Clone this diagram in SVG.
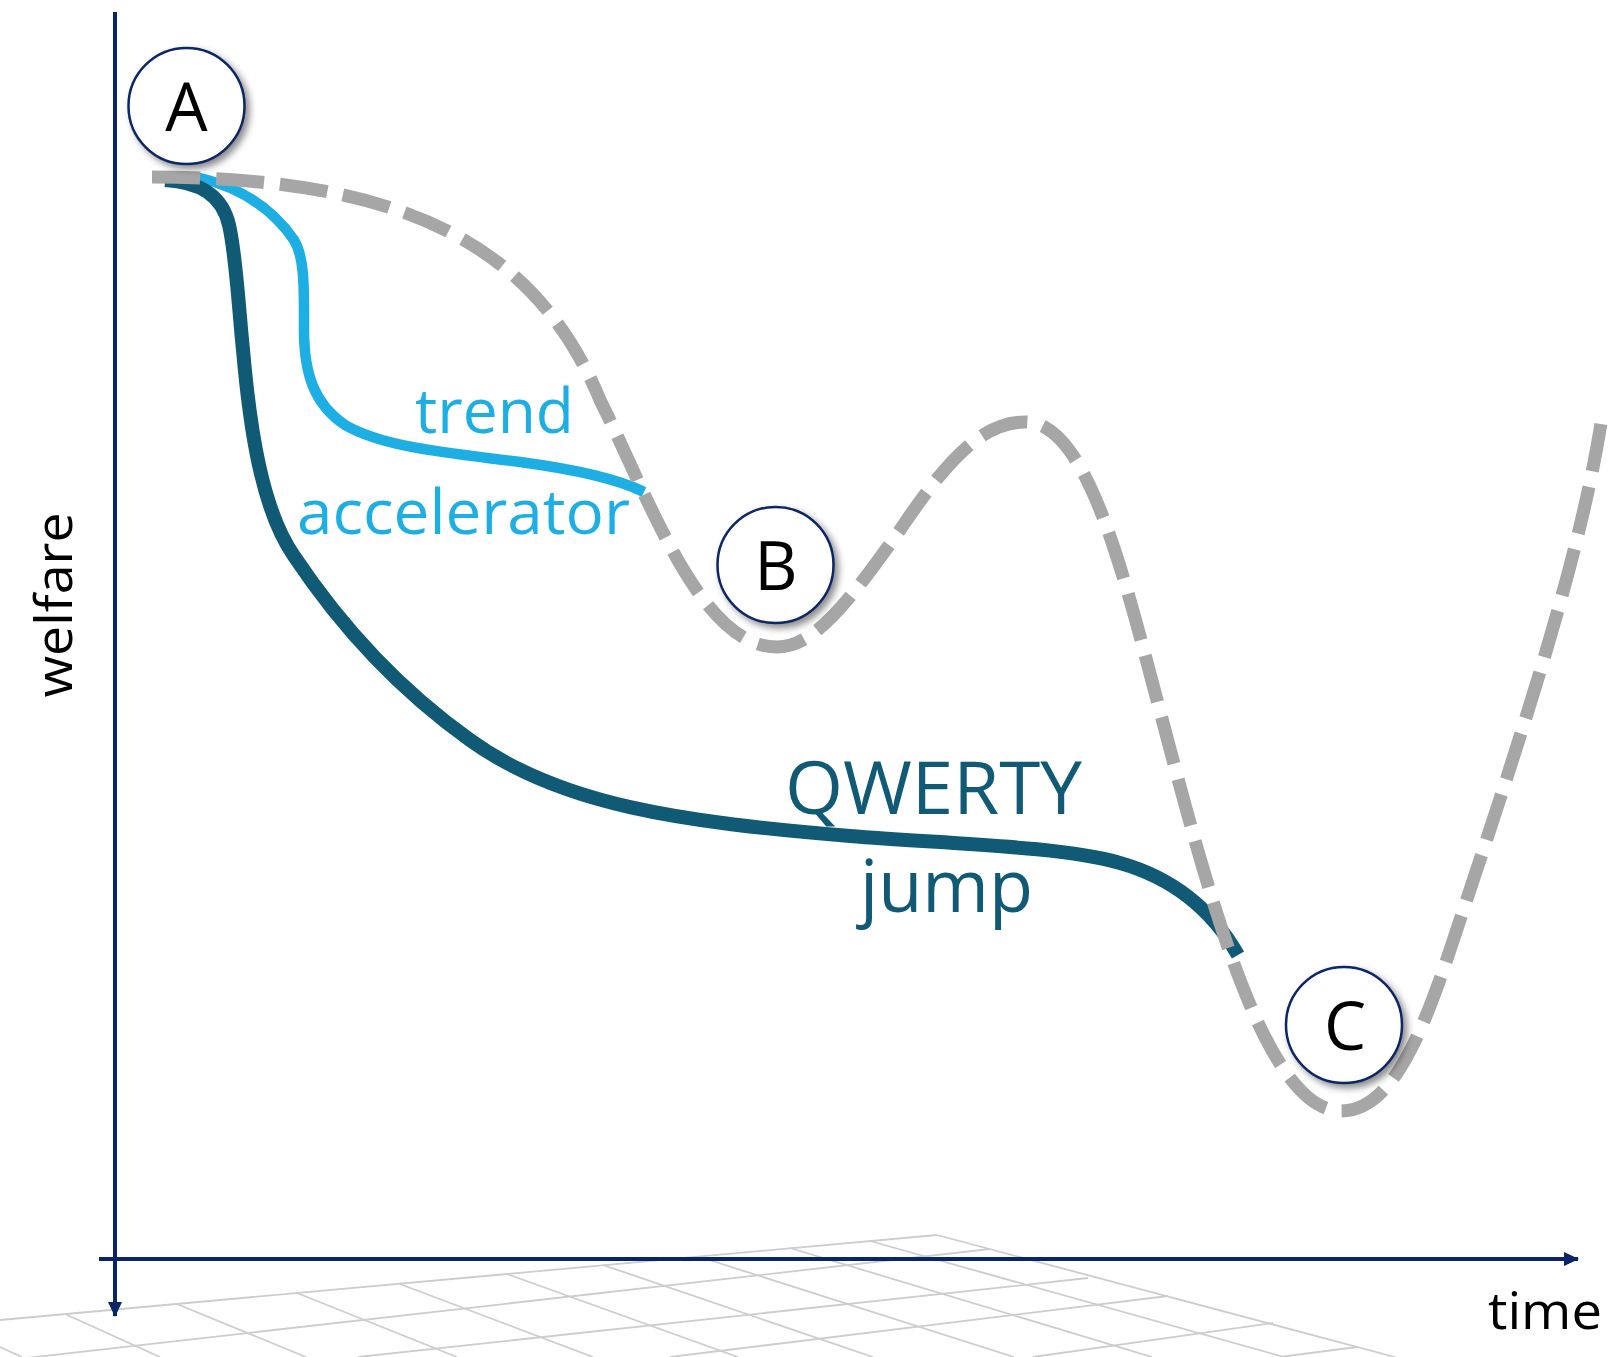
<svg xmlns="http://www.w3.org/2000/svg" width="1615" height="1357" viewBox="0 0 1615 1357">
<style>
.grid line{stroke:#cdcdcd;stroke-width:1.8;fill:none}
.axis{stroke:#0a2565;stroke-width:4;fill:none}
.node circle{fill:#fff;stroke:#0a2565;stroke-width:2.5}
.lbl{font-family:"Open Sans","Noto Sans","Liberation Sans",sans-serif;fill:#000}
.letter{font-family:"Open Sans","Noto Sans","Liberation Sans",sans-serif;font-size:67px;fill:#000;text-anchor:middle}
.blue{fill:#1daee4}
.teal{fill:#105a75}
</style>
<defs>
<filter id="sh" x="-30%" y="-30%" width="170%" height="170%">
<feDropShadow dx="4" dy="4" stdDeviation="3.5" flood-color="#000" flood-opacity="0.45"/>
</filter>
<marker id="arr" markerUnits="userSpaceOnUse" markerWidth="16" markerHeight="16" refX="14" refY="8" orient="auto">
<path d="M0,1 L15,8 L0,15 Z" fill="#0a2565"/>
</marker>
</defs>
<rect width="1615" height="1357" fill="#fff"/>
<g id="floor-grid" class="grid">
<line x1="937" y1="1235" x2="1395" y2="1357"/>
<line x1="870" y1="1241" x2="1284" y2="1357"/>
<line x1="790" y1="1248" x2="1152" y2="1357"/>
<line x1="700" y1="1257" x2="1014" y2="1357"/>
<line x1="603" y1="1265" x2="873" y2="1357"/>
<line x1="507" y1="1274" x2="738" y2="1357"/>
<line x1="400" y1="1284" x2="593" y2="1357"/>
<line x1="297" y1="1293" x2="457" y2="1357"/>
<line x1="177" y1="1304" x2="306" y2="1357"/>
<line x1="65" y1="1314" x2="160" y2="1357"/>
<line x1="0" y1="1347" x2="22" y2="1357"/>
<line x1="0" y1="1320" x2="937" y2="1235"/>
<line x1="0" y1="1361" x2="990" y2="1249"/>
<line x1="358" y1="1357" x2="1088" y2="1278"/>
<line x1="670" y1="1357" x2="1168" y2="1296"/>
<line x1="1033" y1="1357" x2="1273" y2="1323"/>
<line x1="1280" y1="1357" x2="1357" y2="1347"/>
</g>
<g id="axes">
<line class="axis" x1="115" y1="12" x2="115" y2="1316" marker-end="url(#arr)"/>
<line class="axis" x1="99" y1="1259" x2="1578" y2="1259" marker-end="url(#arr)"/>
</g>
<g id="connectors">
<path id="trend-accelerator" d="M196,177 C245,188 275,212 294,240 C305,258 304,290 304,330 C304,375 315,405 345,425 C385,448 450,453 520,462 C580,470 620,480 644,492" fill="none" stroke="#1daee4" stroke-width="10.5"/>
<path id="qwerty-jump" d="M165,180 C200,182 222,195 229,225 C236,255 238,300 243,350 C250,430 262,510 294,556 C340,625 400,690 470,740 C560,805 680,822 850,836 C950,844 1060,846 1120,863 C1180,880 1215,915 1238,955" fill="none" stroke="#105a75" stroke-width="14"/>
<path id="welfare-path" d="M152,177 C380,178 530,230 600,400 C650,500 700,647 777,647 C815,647 850,600 900,530 C950,455 985,422 1025,422 C1085,422 1120,560 1157,700 C1205,880 1262,1111 1341,1111 C1390,1111 1420,1040 1450,950 C1520,740 1580,560 1602,417" fill="none" stroke="#a6a6a6" stroke-width="13" stroke-dasharray="48 16"/>
</g>
<g id="node-A" class="node">
<circle cx="186.5" cy="106" r="58" filter="url(#sh)"/>
<text class="letter" x="186.5" y="131">A</text>
</g>
<g id="node-B" class="node">
<circle cx="775.5" cy="565" r="58" filter="url(#sh)"/>
<text class="letter" x="776" y="590">B</text>
</g>
<g id="node-C" class="node">
<circle cx="1344" cy="1025" r="58" filter="url(#sh)"/>
<text class="letter" x="1345" y="1050">C</text>
</g>
<g id="labels">
<text class="lbl" font-size="52" transform="translate(72,605) rotate(-90)" text-anchor="middle" textLength="185" lengthAdjust="spacingAndGlyphs">welfare</text>
<text class="lbl" font-size="52" x="1488" y="1329" textLength="114" lengthAdjust="spacingAndGlyphs">time</text>
<text class="lbl blue" font-size="63" x="415" y="433" textLength="159" lengthAdjust="spacingAndGlyphs">trend</text>
<text class="lbl blue" font-size="63" x="297" y="534" textLength="333" lengthAdjust="spacingAndGlyphs">accelerator</text>
<text class="lbl teal" font-size="74" x="785" y="814" textLength="297" lengthAdjust="spacingAndGlyphs">QWERTY</text>
<text class="lbl teal" font-size="74" x="860" y="912" textLength="173" lengthAdjust="spacingAndGlyphs">jump</text>
</g>
</svg>
